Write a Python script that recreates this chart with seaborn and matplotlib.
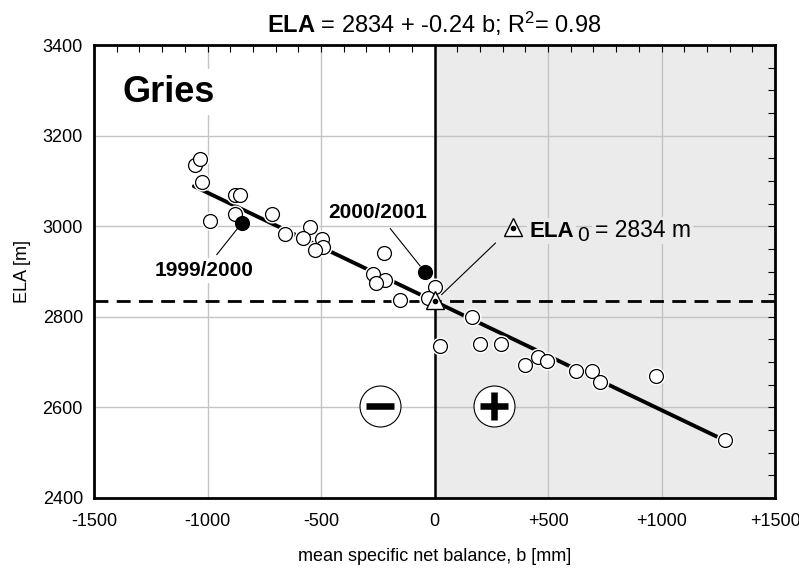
import pandas as pd
import seaborn as sns
import matplotlib.pyplot as plt
from matplotlib import transforms

sns.set_style("white")
plt.rcParams['font.family'] = ['Liberation Sans', 'DejaVu Sans']
plt.rcParams['mathtext.fontset'] = 'custom'
plt.rcParams['mathtext.rm'] = 'Liberation Sans'
plt.rcParams['mathtext.bf'] = 'Liberation Sans:bold'
plt.rcParams['mathtext.it'] = 'Liberation Sans:italic'
for key in ['text.color', 'axes.labelcolor', 'xtick.color', 'ytick.color']:
    plt.rcParams[key] = 'black'

# mean specific net balance b [mm] and ELA [m], one point per year
balance = [-1057, -1032, -1023, -988, -881, -856, -881, -718, -660, -550,
           -580, -494, -492, -528, -222, -269, -220, -257, -154, 0, -29,
           166, 25, 201, 294, 399, 458, 495, 624, 693, 730, 976, 1280]
ela = [3135, 3148, 3098, 3012, 3069, 3069, 3028, 3028, 2982, 2999,
       2973, 2971, 2953, 2947, 2941, 2894, 2881, 2874, 2836, 2865, 2841,
       2799, 2736, 2740, 2740, 2693, 2711, 2703, 2681, 2681, 2657, 2669, 2528]

# the two labelled years (filled dots)
year_labels = ['1999/2000', '2000/2001']
year_balance = [-847, -44]
year_ela = [3008, 2900]

# regression ELA = a + s*b
intercept = 2834
slope = -0.24
r_squared = 0.98
fit_range = [-1060, 1280]

x_ticks = [-1500, -1000, -500, 0, 500, 1000, 1500]
x_tick_labels = ['-1500', '-1000', '-500', '0', '+500', '+1000', '+1500']
y_ticks = [2400, 2600, 2800, 3000, 3200, 3400]


def main():
    points = pd.DataFrame({'b': balance, 'ELA': ela})
    years = pd.DataFrame({'b': year_balance, 'ELA': year_ela})
    fit = pd.DataFrame({'b': fit_range,
                        'ELA': [intercept + slope * b for b in fit_range]})

    fig = plt.figure(figsize=(7.99, 5.68), dpi=100)
    ax = fig.add_axes([94 / 799, 70 / 568, 681 / 799, 453 / 568])
    ax.set_xlim(-1500, 1500)
    ax.set_ylim(2400, 3400)

    # positive balance half shaded
    shade = '#ebebeb'
    ax.axvspan(0, 1500, color=shade, lw=0, zorder=0)
    ax.set_axisbelow(True)
    ax.grid(True, which='major', color='#c4c4c4', lw=1)

    ax.axvline(0, color='black', lw=1.8, zorder=2)
    ax.axhline(intercept, color='black', lw=2, dashes=(5, 3), zorder=2)

    sns.lineplot(data=fit, x='b', y='ELA', color='black', lw=2.8,
                 errorbar=None, ax=ax, zorder=3)

    # white halo, then the open circles
    sns.scatterplot(data=points, x='b', y='ELA', s=100, color='white',
                    edgecolor='white', linewidth=3, ax=ax, zorder=4)
    sns.scatterplot(data=points, x='b', y='ELA', s=100, color='white',
                    edgecolor='black', linewidth=0.9, ax=ax, zorder=5)
    sns.scatterplot(data=years, x='b', y='ELA', s=100, color='black',
                    edgecolor='black', linewidth=0.9, ax=ax, zorder=5)

    # ELA0 marker on the axis crossing
    up = transforms.offset_copy(ax.transData, fig=fig, y=1, units='points')
    ax.plot(0, intercept, marker='^', ms=12.5, mfc='white', mec='black',
            mew=1, transform=up, zorder=6)
    ax.plot(0, intercept, marker='o', ms=3, color='black', zorder=7)

    label_box = dict(boxstyle='square,pad=0.15', fc='white', ec='none')
    ax.text(-1374, 3296, 'Gries', fontsize=26, weight='bold',
            ha='left', va='center', bbox=label_box, zorder=8)

    text_pos = [(-1015, 2902), (-251, 3030)]
    for name, b, e, pos in zip(year_labels, year_balance, year_ela,
                               text_pos):
        ax.annotate(name, xy=(b, e), xytext=pos, fontsize=15,
                    weight='bold', ha='center', va='center',
                    bbox=label_box, zorder=8,
                    arrowprops=dict(arrowstyle='-', color='black', lw=0.8,
                                    shrinkA=3, shrinkB=5))

    # ELA0 label: leader line, icon, text in three pieces
    ax.annotate('', xy=(0, intercept), xytext=(269, 2963),
                arrowprops=dict(arrowstyle='-', color='black', lw=0.8,
                                shrinkA=0, shrinkB=7), zorder=8)
    ax.plot(348, 2996, marker='^', ms=13, mfc='white', mec='black',
            mew=1, transform=up, zorder=8)
    ax.plot(348, 2996, marker='o', ms=3, color='black', zorder=9)
    gray_box = dict(boxstyle='square,pad=0.1', fc=shade, ec='none')
    t1 = ax.text(418, 2977, 'ELA', fontsize=16, weight='bold',
                 ha='left', va='baseline', bbox=gray_box, zorder=8)
    t2 = ax.annotate('0', xy=(1, 0), xycoords=t1, xytext=(2, -2.5),
                     textcoords='offset points', fontsize=15,
                     ha='left', va='bottom', zorder=8)
    ax.annotate(f'= {intercept} m', xy=(1, 0), xycoords=t2,
                xytext=(4.5, 2.3), textcoords='offset points',
                fontsize=16.5, ha='left', va='bottom', bbox=gray_box,
                zorder=8)

    # minus / plus symbols
    for b, sign in [(-240, '_'), (260, '+')]:
        ax.plot(b, 2602, marker='o', ms=29.5, mfc='white', mec='black',
                mew=0.8, zorder=5)
        ax.plot(b, 2602, marker=sign, ms=19.5, mew=4.7, color='black',
                zorder=6)

    ax.set_xticks(x_ticks)
    ax.set_xticklabels(x_tick_labels)
    ax.set_xticks(range(-1500, 1501, 100), minor=True)
    ax.set_yticks(y_ticks)
    ax.set_yticks(range(2400, 3401, 50), minor=True)
    ax.tick_params(which='both', direction='in', top=True, right=True,
                   length=5, width=0.8, color='black', labelsize=13)
    ax.tick_params(axis='x', pad=11)
    ax.tick_params(axis='y', pad=8)
    for spine in ax.spines.values():
        spine.set_color('black')
        spine.set_linewidth(2)

    ax.set_xlabel('mean specific net balance, b [mm]', fontsize=13,
                  labelpad=13)
    ax.set_ylabel('ELA [m]', fontsize=13, labelpad=8)
    ax.set_title(r'$\mathbf{ELA}$ = ' + f'{intercept} + {slope} b; '
                 + r'R$^2$= ' + f'{r_squared}', fontsize=17, pad=9)

    fig.savefig('out.png', dpi=100)


if __name__ == '__main__':
    main()
